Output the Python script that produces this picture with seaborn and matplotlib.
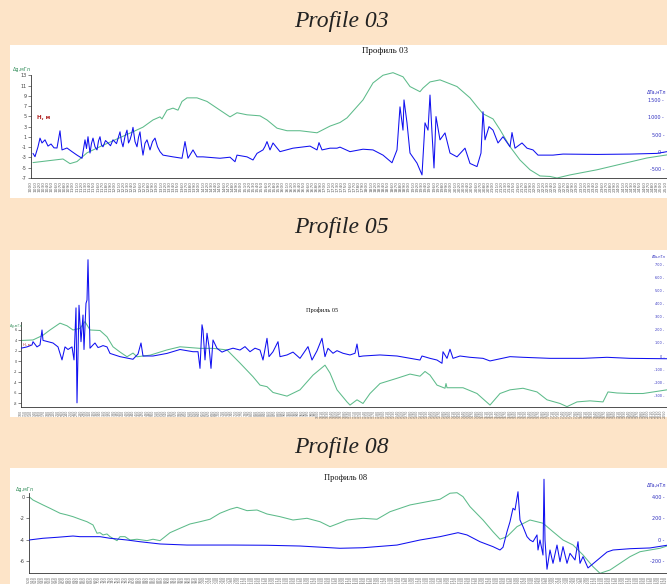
import numpy as np
import matplotlib
matplotlib.use('Agg')
import matplotlib.pyplot as plt
import seaborn as sns
from matplotlib.patches import Rectangle

# ---- data (x = distance along profile, km; grav = Δg, mGal; mag = ΔTa, nT)
p03_grav_x = [0.2, 1.9, 3.2, 3.9, 4.6, 5.6, 6.9, 8.6, 10.2, 11.2, 12.2, 12.9, 13.1, 13.6, 14.2, 14.7,
              15.1, 15.6, 16.6, 17.6, 18.9, 19.9, 20.6, 21.6, 22.9, 23.6, 24.6, 25.6, 26.9, 28.6, 29.9,
              30.9, 31.6, 33.2, 34.2, 35.2, 36.2, 37.2, 37.9, 38.9, 39.2, 39.9, 40.9, 42.6, 43.9, 44.6,
              45.2, 46.2, 46.9, 47.9, 48.9, 49.9, 50.9, 51.9, 52.6, 53.9, 56.6, 59.2, 61.6, 63.6]
p03_grav = [-4.0, -3.6, -3.3, -4.2, -3.8, -2.1, -0.9, 0.6, 2.0, 2.9, 4.3, 4.9, 4.5, 6.2, 6.6, 6.2,
            7.9, 8.6, 8.6, 7.9, 6.2, 4.9, 5.7, 5.3, 5.1, 4.3, 2.7, 2.2, 2.2, 1.8, 3.1,
            3.8, 4.7, 8.2, 11.5, 13.0, 13.5, 12.7, 10.8, 9.8, 10.5, 11.7, 12.1, 10.8, 8.6, 6.9,
            5.5, 4.5, 2.4, -0.9, -3.5, -5.4, -6.6, -6.7, -7.0, -6.4, -5.4, -4.2, -3.1, -2.5]
p03_mag_x = [0.2, 0.4, 0.7, 0.9, 1.1, 1.4, 1.7, 2.0, 2.3, 2.6, 2.9, 3.1, 3.6, 4.1, 4.6, 5.1, 5.4,
             5.55, 5.7, 5.9, 6.05, 6.2, 6.4, 6.6, 6.75, 6.9, 7.05, 7.2, 7.45, 7.7, 7.95, 8.2, 8.55,
             8.9, 9.05, 9.2, 9.4, 9.6, 9.75, 9.9, 10.05, 10.2, 10.4, 10.6, 10.75, 10.9, 11.05, 11.2,
             11.4, 11.6, 11.75, 11.9, 12.15, 12.4, 12.65, 12.9, 13.2, 14.2, 15.1, 15.4, 15.7, 16.2,
             16.6, 17.2, 18.9, 19.9, 20.4, 20.6, 21.6, 22.2, 22.6, 23.2, 23.4, 23.6, 23.9, 24.2,
             24.9, 26.2, 27.9, 28.6, 28.8, 29.1, 29.9, 30.6, 30.9, 31.9, 33.2, 34.2, 35.2, 36.1,
             36.6, 36.9, 37.2, 37.3, 37.6, 37.9, 38.6, 39.1, 39.4, 39.7, 39.9, 40.1, 40.3, 40.5,
             40.9, 41.4, 41.9, 42.6, 43.4, 43.9, 44.6, 45.0, 45.2, 45.4, 45.8, 46.2, 46.7, 47.2,
             47.9, 48.1, 48.4, 49.1, 49.6, 50.2, 50.7, 52.2, 53.2, 56.6, 59.9, 62.6, 63.6]
p03_mag = [-40, -135, 150, 400, 260, 350, 170, 230, 120, 115, 610, 60, 115, 10, -90, -180, 350,
           100, 440, -30, 250, 400, 150, 60, 320, 440, 200, 150, 330, 260, 180, 350, 240,
           580, 300, 150, 450, 630, 260, 350, 500, 710, 300, 150, 420, 580, 200, -90,
           250, 350, 200, 60, 300, 400, 150, 10, -90, -140, -180, 300, -180, 60,
           -140, -140, -180, -150, -280, -90, -140, -230, -40, 60, 160, 300, 60, 260,
           10, 110, 170, 60, 270, 60, 110, 110, 140, 10, 80, 60, -90, -310,
           60, 1300, 630, 1500, 840, -30, -320, -660, 840, 630, 1640, 550, -460, 1020,
           350, 550, -30, -140, 110, -330, -420, -30, 1160, 350, 730, 630, 260, 440,
           150, 560, 110, 260, 110, 60, -90, -90, -60, -70, -60, -40, 10]

p05_grav_x = [0.0, 1.2, 2.2, 2.9, 3.9, 4.6, 5.2, 5.9, 6.4, 6.9, 7.9, 8.6, 9.2, 9.9, 10.6, 11.2, 11.6,
              12.9, 14.6, 15.9, 17.9, 19.2, 20.6, 21.9, 23.2, 23.9, 24.6, 25.2, 26.6, 27.9, 29.2,
              30.4, 30.9, 31.6, 32.6, 32.9, 33.6, 34.2, 34.9, 35.9, 37.6, 38.9, 39.9, 40.4, 40.9,
              41.6, 42.4, 42.5, 42.6, 44.2, 45.6, 46.9, 47.9, 48.9, 50.2, 51.6, 52.6, 53.9, 54.6,
              55.6, 56.9, 58.2, 58.7, 59.6, 60.9, 62.2, 64.6]
p05_grav = [4.0, 4.1, 5.0, 6.0, 7.3, 6.8, 6.0, 6.3, 7.6, 6.0, 5.9, 4.7, 2.8, 1.8, 0.9, 1.6, 0.9,
            1.2, 2.2, 2.8, 2.5, 2.5, 2.2, -0.3, -2.9, -4.5, -4.8, -5.9, -6.6, -5.4, -2.6,
            -0.7, -2.2, -5.4, -7.7, -8.3, -7.3, -8.0, -6.1, -4.2, -3.2, -2.4, -2.8, -1.9, -2.6,
            -4.5, -5.1, -4.2, -5.0, -5.0, -6.1, -8.3, -6.1, -5.4, -5.1, -5.8, -7.3, -8.0, -8.6,
            -7.7, -7.5, -7.7, -5.8, -6.0, -6.1, -6.1, -5.4]
p05_mag_x = [0.0, 0.6, 1.1, 1.2, 1.6, 1.9, 2.1, 2.2, 2.7, 3.2, 3.7, 4.1, 4.4, 4.7, 5.1, 5.3, 5.5, 5.6,
             5.8, 6.0, 6.2, 6.3, 6.5, 6.6, 6.7, 6.9, 7.2, 7.4, 7.7, 7.9, 8.2, 8.6, 8.9, 9.9, 11.2,
             11.7, 12.0, 12.2, 13.2, 14.6, 15.9, 17.2, 17.7, 17.9, 18.1, 18.2, 18.4, 18.6, 18.8,
             19.0, 19.2, 19.6, 20.1, 20.6, 21.2, 21.9, 22.4, 22.9, 23.4, 23.9, 24.2, 24.6, 24.8,
             25.2, 25.7, 25.9, 26.6, 27.2, 27.9, 28.7, 29.1, 29.6, 30.1, 30.4, 30.7, 31.2, 31.6,
             32.2, 32.9, 33.4, 33.6, 33.8, 34.2, 35.9, 37.6, 39.9, 40.1, 40.9, 41.6, 42.1, 42.2,
             42.6, 42.9, 43.2, 43.9, 44.9, 46.2, 46.9, 48.9, 50.2, 52.9, 56.2, 58.6, 60.9, 64.6]
p05_mag = [60, 70, 85, 110, 70, 85, 200, 120, 110, 100, 70, -30, 70, 50, 70, -30, 370, -360,
           390, 110, 315, 50, 405, 430, 740, 60, 85, 100, 65, 70, 80, 70, 20, -5, -25,
           15, 100, 0, 0, 20, 50, 33, 33, -95, 240, 200, -30, 175, 72,
           -95, 123, 59, 30, 46, 60, 46, 72, 33, 60, 46, -31, 136, -5,
           33, 110, -5, 8, 30, -18, 72, -31, 40, 136, -5, 59, 21, 41,
           21, 8, 21, 92, -5, 0, 8, 0, -31, 0, -18, -31, -56, 33,
           -18, 52, -18, 0, -10, -18, -38, -5, -10, -18, -18, -10, -18, -21]

p08_grav_x = [0.0, 0.4, 1.4, 2.1, 3.1, 3.8, 4.4, 5.1, 5.8, 6.4, 6.8, 7.1, 7.4, 7.8, 8.1, 8.8, 9.1,
              9.6, 10.1, 10.8, 11.8, 12.4, 13.1, 13.4, 14.1, 15.1, 16.1, 17.1, 18.1, 19.1, 20.1,
              20.8, 21.8, 22.8, 23.8, 25.1, 26.4, 27.8, 29.1, 30.1, 30.8, 31.8, 33.4, 34.8, 36.1,
              38.1, 39.8, 41.1, 42.1, 42.8, 43.4, 44.1, 45.4, 46.4, 47.1, 47.8, 48.8, 50.1, 51.4,
              52.4, 53.4, 54.4, 55.4, 56.4, 57.1, 58.1, 59.1, 60.1, 61.1, 62.1, 63.1, 63.8]
p08_grav = [0.0, -0.31, -0.77, -1.08, -1.54, -1.70, -1.86, -2.10, -2.33, -2.63, -3.40, -3.35, -3.56,
            -3.47, -3.72, -4.09, -3.72, -3.72, -4.03, -3.96, -4.09, -3.96, -4.09, -3.87, -3.35,
            -2.94, -2.54, -2.33, -2.10, -1.54, -1.17, -0.99, -1.30, -1.24, -1.61, -1.86, -2.17,
            -2.01, -2.33, -2.79, -2.54, -2.17, -2.01, -2.10, -1.40, -0.77, -0.47, -0.24, 0.32,
            0.37, 0.0, -0.93, -2.17, -3.26, -3.96, -3.72, -2.79, -2.17, -2.47, -3.26, -4.03,
            -4.49, -5.42, -6.51, -7.13, -6.82, -6.20, -5.58, -5.12, -4.96, -4.80, -4.59]
p08_mag_x = [0.0, 1.4, 2.8, 4.4, 5.1, 7.1, 8.1, 9.8, 11.1, 13.1, 15.8, 20.4, 23.8, 27.1, 31.1, 33.4,
             36.8, 39.1, 41.1, 42.9, 43.8, 45.1, 46.4, 47.1, 47.4, 47.8, 48.1, 48.4, 48.6, 48.9,
             49.1, 49.4, 49.8, 50.1, 50.4, 50.8, 50.9, 51.1, 51.4, 51.5, 51.6, 51.8, 52.1, 52.4,
             52.8, 53.1, 53.4, 53.8, 54.1, 54.6, 54.9, 55.1, 55.4, 55.9, 57.8, 58.4, 60.1, 62.1,
             63.8]
p08_mag = [0, 16, 25, 37, 31, 31, 16, 0, -16, -37, -47, -47, -49, -56, -77, -72,
           -47, 0, 31, 68, 47, -16, -62, -93, -68, 77, 170, 295, 279, 449,
           186, 124, 31, 0, -16, 47, -93, 0, -140, 565, 0, -272, -93, -217,
           -47, -202, -62, -217, -124, -186, -16, -217, -155, -260, -112, -93, -81, -74,
           -49]

# picket labels on the x axes
p03_pk_start, p05_pk_start, p08_pk_start = 1000, 100, 500

BG = '#fde4c8'
GREEN = '#5dbb8a'
BLUE = '#1010f0'
W, H = 667, 584

sns.set_style('white')
plt.rcParams['font.family'] = ['DejaVu Sans']

fig = plt.figure(figsize=(W / 100, H / 100), dpi=100)
fig.patch.set_facecolor(BG)


def px_rect(x0, y0, x1, y1):
    return [x0 / W, 1 - y1 / H, (x1 - x0) / W, (y1 - y0) / H]


def panel(box, axbox, gx, gy, mx, my, glim, gbounds, gticks, mlim, mticks,
          xmax, pk_step, pk_start, pk_fs, tick_fs):
    r = px_rect(*box)
    fig.add_artist(Rectangle((r[0], r[1]), r[2], r[3], transform=fig.transFigure,
                             facecolor='white', edgecolor='none', zorder=-1))
    ax = fig.add_axes(px_rect(*axbox))
    ax.patch.set_alpha(0)
    sns.lineplot(x=gx, y=gy, ax=ax, color=GREEN, linewidth=0.75, estimator=None, sort=False)
    ax.set_xlim(0, xmax)
    ax.set_ylim(*glim)
    for s in ['top', 'right']:
        ax.spines[s].set_visible(False)
    ax.spines['left'].set_bounds(*gbounds)
    for s in ['left', 'bottom']:
        ax.spines[s].set_color('#333')
        ax.spines[s].set_linewidth(0.6)
    ax.set_yticks(gticks)
    ax.set_yticklabels([str(t) for t in gticks], fontsize=tick_fs, color='#444')
    ax.tick_params(axis='y', length=2, width=0.4, pad=1)
    ticks = np.arange(0, xmax, pk_step)
    ax.set_xticks(ticks)
    ax.set_xticklabels([str(pk_start + 10 * i) for i in range(len(ticks))], rotation=90,
                       fontsize=pk_fs, color='#666')
    ax.tick_params(axis='x', length=1.5, width=0.3, pad=0.5)

    ax2 = ax.twinx()
    sns.lineplot(x=mx, y=my, ax=ax2, color=BLUE, linewidth=0.75, estimator=None, sort=False)
    ax2.set_ylim(*mlim)
    for s in ax2.spines.values():
        s.set_visible(False)
    ax2.set_yticks(mticks)
    ax2.set_yticklabels([f'{t} -' for t in mticks], fontsize=tick_fs, color='#3030c0')
    ax2.tick_params(axis='y', length=0, pad=-2)
    for lab in ax2.get_yticklabels():
        lab.set_horizontalalignment('right')
    ax.set_xlabel('')
    ax.set_ylabel('')
    ax2.set_ylabel('')
    return ax, ax2


panel((10, 45, 667, 198), (31, 66, 667, 178),
      p03_grav_x, p03_grav, p03_mag_x, p03_mag,
      (-7, 14.8), (-7, 13), list(range(13, -8, -2)), (-749, 2477), [-500, 0, 500, 1000, 1500],
      63.6, 0.42, p03_pk_start, 3.2, 3.5)
panel((10, 250, 667, 417), (21, 257, 667, 407),
      p05_grav_x, p05_grav, p05_mag_x, p05_mag,
      (-8.67, 19.9), (-8.67, 7.5), list(range(6, -9, -2)), (-392, 761),
      list(range(-300, 701, 100)), 64.6, 0.33, p05_pk_start, 2.3, 2.5)
panel((10, 468, 667, 584), (29, 477, 667, 573),
      p08_grav_x, p08_grav, p08_mag_x, p08_mag,
      (-7.1, 1.83), (-7.1, 0.37), [0, -2, -4, -6], (-307, 586), [-200, 0, 200, 400],
      63.8, 0.35, p08_pk_start, 2.6, 3.5)

# section headings
for y, name in [(22, 'Profile 03'), (228, 'Profile 05'), (448, 'Profile 08')]:
    fig.text(341 / W, 1 - y / H, name, ha='center', va='center', fontsize=17,
             style='italic', family='Liberation Serif', color='#222')

# chart captions and axis names
for x, y, name, fs in [(385, 51, 'Профиль 03', 6.5), (322, 310, 'Профиль 05', 4.5),
                       (346, 478, 'Профиль 08', 6)]:
    fig.text(x / W, 1 - y / H, name, ha='center', va='center', fontsize=fs,
             family='Liberation Serif', color='#111')
for x, y, fs in [(13, 70, 3.5), (10, 326, 2.5), (16, 490, 3.5)]:
    fig.text(x / W, 1 - y / H, 'Δg,мГл', ha='left', va='center', fontsize=fs, color='#2e8b57')
for y, fs in [(92, 3.5), (257, 2.5), (485, 3.5)]:
    fig.text(666 / W, 1 - y / H, 'ΔTa,нТл', ha='right', va='center', fontsize=fs, color='#3030c0')
fig.text(37 / W, 1 - 118 / H, 'H, м', ha='left', va='center', fontsize=4, color='#b02020',
         weight='bold')
fig.text(23 / W, 1 - 345 / H, 'H, м', ha='left', va='center', fontsize=2.5, color='#b02020')

plt.savefig('out.png', dpi=100, facecolor=BG)
